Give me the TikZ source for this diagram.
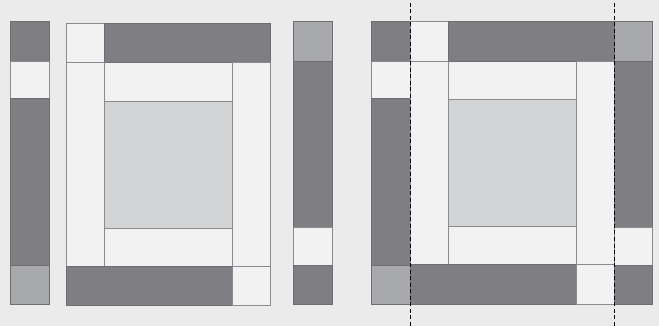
\documentclass[tikz,border=0pt]{standalone}
\definecolor{bg}{HTML}{EBEBEB}
\definecolor{dkc}{HTML}{7F7F83}
\definecolor{wtc}{HTML}{F2F2F2}
\definecolor{ltc}{HTML}{D3D4D6}
\definecolor{mdc}{HTML}{A8A9AD}
\definecolor{edge}{HTML}{6E6E72}
\tikzset{
  dk/.style={fill=dkc,draw=edge,line width=0.9pt},
  wt/.style={fill=wtc,draw=edge!80,line width=0.9pt},
  lt/.style={fill=ltc,draw=edge!80,line width=0.9pt},
  md/.style={fill=mdc,draw=edge,line width=0.9pt},
  cutline/.style={draw=black,line width=0.8pt,dash pattern=on 4pt off 2.5pt}
}
\begin{document}
\begin{tikzpicture}[x=1pt,y=-1pt]
\fill[bg] (0,0) rectangle (659,326);
\useasboundingbox (0,0) rectangle (659,326);
% left strip
\draw[dk] (10,21) rectangle (49,61);
\draw[wt] (10,61) rectangle (49,98.5);
\draw[dk] (10,98.5) rectangle (49,265);
\draw[md] (10,265) rectangle (49,304);
% middle block
\draw[lt] (104,101) rectangle (232,228.5);
\draw[wt] (104,62) rectangle (232,101);
\draw[wt] (104,228.5) rectangle (232,266);
\draw[wt] (66,23) rectangle (104,62);
\draw[dk] (104,23) rectangle (270,62);
\draw[wt] (66,62) rectangle (104,266);
\draw[wt] (232,62) rectangle (270,266);
\draw[dk] (66,266) rectangle (232,305);
\draw[wt] (232,266) rectangle (270,305);
% right strip
\draw[md] (293,21) rectangle (332,61);
\draw[dk] (293,61) rectangle (332,227);
\draw[wt] (293,227) rectangle (332,265);
\draw[dk] (293,265) rectangle (332,304);
% combined block
\draw[dk] (371,21) rectangle (410,61);
\draw[wt] (371,61) rectangle (410,98.5);
\draw[dk] (371,98.5) rectangle (410,265);
\draw[md] (371,265) rectangle (410,304);
\draw[lt] (448,99) rectangle (576,226.5);
\draw[wt] (448,61) rectangle (576,99);
\draw[wt] (448,226.5) rectangle (576,264.5);
\draw[wt] (410,21) rectangle (448,61);
\draw[dk] (448,21) rectangle (614,61);
\draw[wt] (410,61) rectangle (448,264.5);
\draw[wt] (576,61) rectangle (614,264.5);
\draw[dk] (410,264.5) rectangle (576,304);
\draw[wt] (576,264.5) rectangle (614,304);
\draw[md] (614,21) rectangle (652,61);
\draw[dk] (614,61) rectangle (652,227);
\draw[wt] (614,227) rectangle (652,265);
\draw[dk] (614,265) rectangle (652,304);
% cut lines
\coordinate (c1t) at (410,3);
\coordinate (c1b) at (410,326);
\coordinate (c2t) at (614,3);
\coordinate (c2b) at (614,326);
\draw[cutline] (c1t) -- (c1b);
\draw[cutline] (c2t) -- (c2b);
\end{tikzpicture}
\end{document}
